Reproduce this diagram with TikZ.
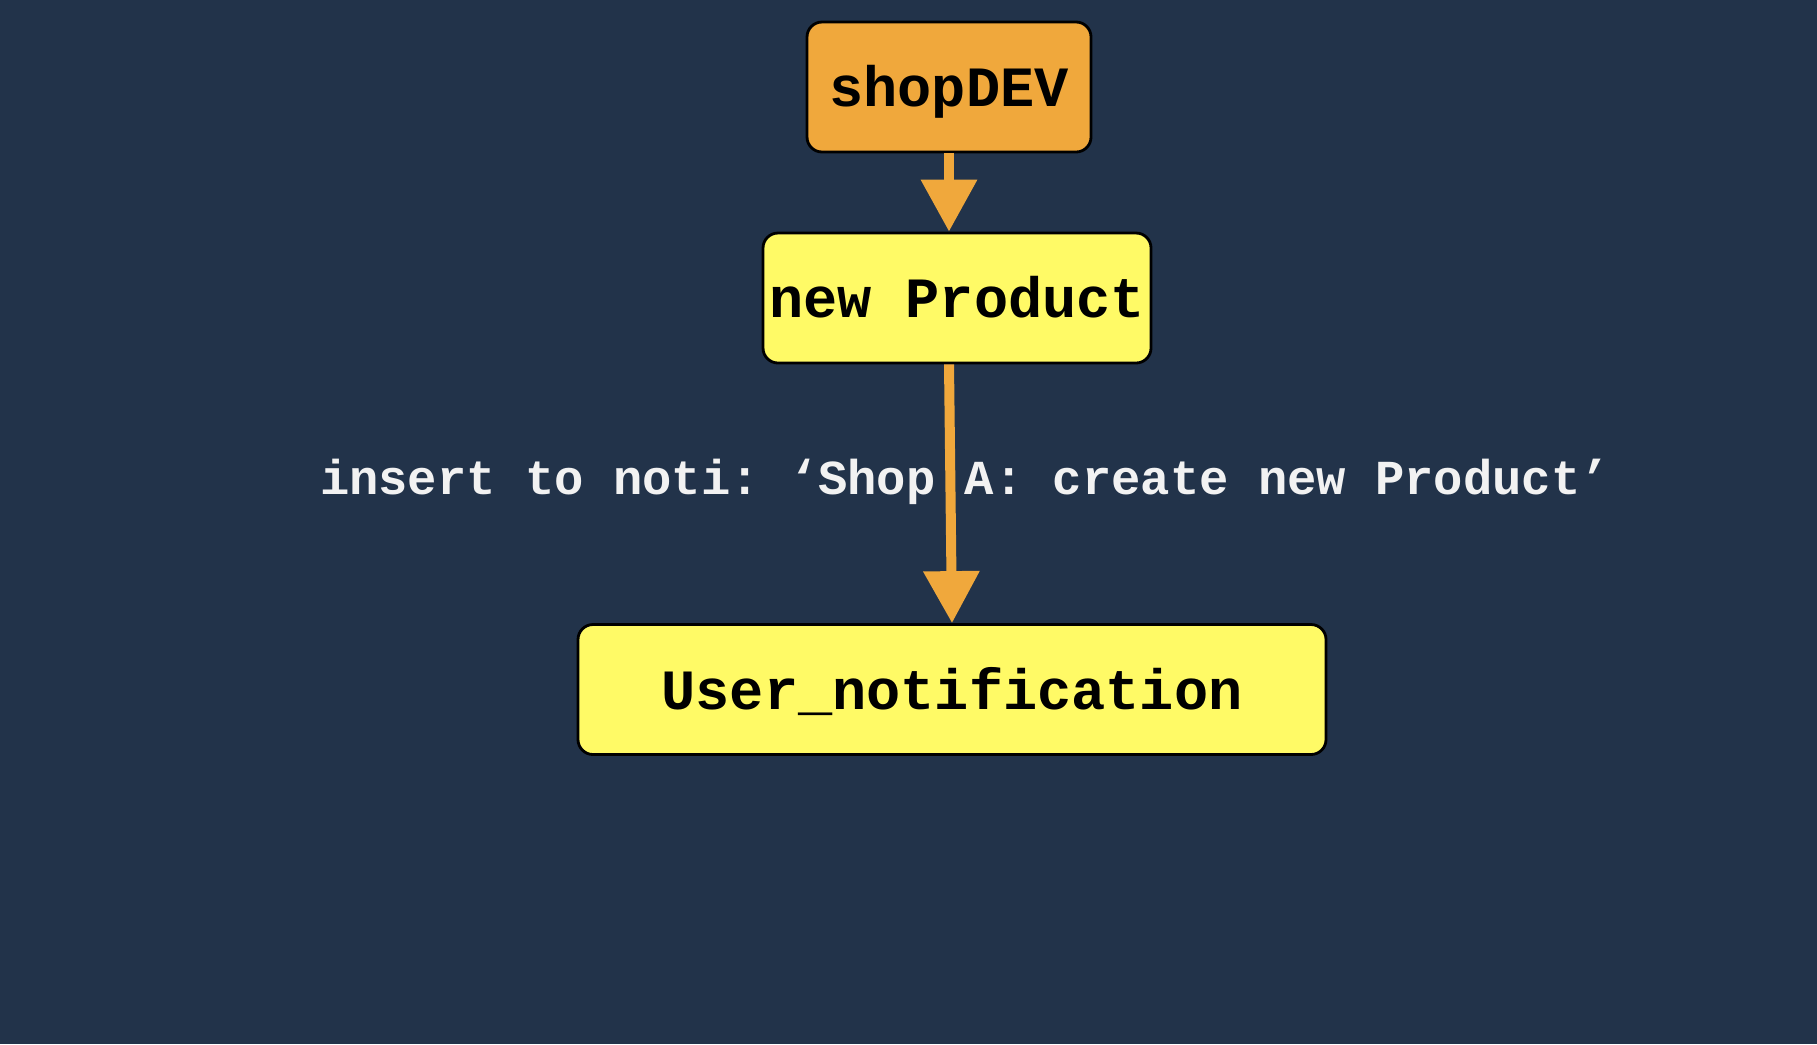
\documentclass[tikz,border=0pt]{standalone}
\usepackage{xcolor}
\usepackage{fontspec}
\setmonofont{Liberation Mono}
\usepackage{tikz}
\usetikzlibrary{positioning,arrows.meta}

\definecolor{bgnavy}{HTML}{22334A}
\definecolor{boxorange}{HTML}{F0A83C}
\definecolor{boxyellow}{HTML}{FFFA66}
\definecolor{labelwhite}{HTML}{F2F2F2}

\begin{document}
\begin{tikzpicture}[
  box/.style={draw=black, line width=0.8pt, rounded corners=0.15cm,
    minimum height=1.30cm, inner sep=0pt, text height=0.39cm, text depth=0cm,
    font=\ttfamily\bfseries\fontsize{16.2pt}{19pt}\selectfont},
  label/.style={text=labelwhite, inner sep=0pt,
    font=\ttfamily\bfseries\fontsize{13.9pt}{17pt}\selectfont},
  arr/.style={-{Triangle[length=0.52cm,width=0.54cm]}, line width=0.1cm, boxorange}
]
  \fill[bgnavy] (0,0) rectangle (18.17,-10.44);
  \useasboundingbox (0,0) rectangle (18.17,-10.44);

  \node[box, fill=boxorange, minimum width=2.84cm] (shop) at (9.49,-0.87) {shopDEV};
  \node[box, fill=boxyellow, minimum width=3.88cm] (prod) at (9.57,-2.98) {new Product};
  \node[box, fill=boxyellow, minimum width=7.48cm] (notif) at (9.52,-6.895) {User\_notification};

  \node[label] (insert) at (9.65,-4.82) {insert to noti: ‘Shop A: create new Product’};

  \draw[arr] (shop.south) -- (shop.south |- prod.north);
  \draw[arr] (prod.south -| shop.south) -- (notif.north);
\end{tikzpicture}
\end{document}
